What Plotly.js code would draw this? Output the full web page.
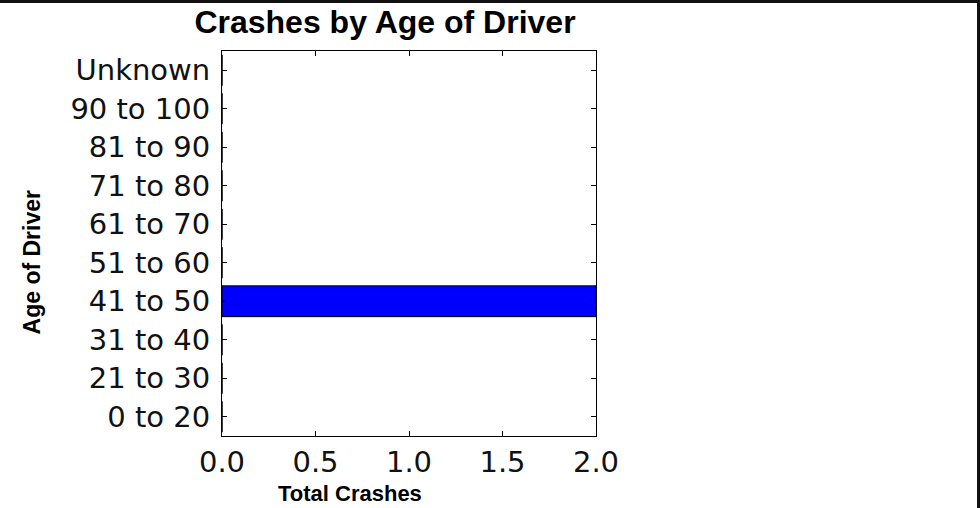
<!DOCTYPE html>
<html>
<head>
<meta charset="utf-8">
<script src="https://cdn.plot.ly/plotly-3.0.1.min.js"></script>
<style>
html,body{margin:0;padding:0;background:#fff;}
#wrap{position:relative;width:980px;height:508px;}
#chart{width:980px;height:508px;}
#frame{position:absolute;left:0;top:0;width:980px;height:508px;box-sizing:border-box;border-top:3px solid #111;border-right:3px solid #111;pointer-events:none;}
</style>
</head>
<body>
<div id="wrap"><div id="chart"></div><div id="frame"></div></div>
<script>
const categories = ["0 to 20","21 to 30","31 to 40","41 to 50","51 to 60","61 to 70","71 to 80","81 to 90","90 to 100","Unknown"];
const totalCrashes = [0,0,0,2,0,0,0,0,0,0];
const xTicks = [0,0.5,1.0,1.5,2.0];
const chartTitle = "Crashes by Age of Driver";
const xLabel = "Total Crashes";
const yLabel = "Age of Driver";

const trace = {
  type: "bar",
  orientation: "h",
  x: totalCrashes,
  y: categories,
  marker: {color: "#0000ff", line: {color: "#000", width: 1}},
  hoverinfo: "x+y"
};

const axisCommon = {
  showline: true, linecolor: "#000", linewidth: 1, mirror: "ticks",
  ticks: "inside", ticklen: 5, tickwidth: 1, tickcolor: "#000",
  showgrid: false, zeroline: false,
  tickfont: {family: "DejaVu Sans", size: 29, color: "#111"}
};

const layout = {
  width: 980, height: 508,
  margin: {l: 222, r: 384, t: 51, b: 72, pad: 0},
  paper_bgcolor: "#fff", plot_bgcolor: "#fff",
  showlegend: false,
  bargap: 0.2,
  title: {text: "<b>" + chartTitle + "</b>", x: 385/980, xref: "container", xanchor: "center",
          y: 1 - 22/508, yref: "container", yanchor: "middle",
          font: {family: "Liberation Sans, Arial", size: 32, color: "#000"}},
  xaxis: Object.assign({}, axisCommon, {range: [0, 2], tickvals: xTicks, tickformat: ".1f", ticklabelstandoff: 0}),
  yaxis: Object.assign({}, axisCommon, {type: "category", categoryorder: "array", categoryarray: categories,
          range: [-0.5, 9.5], ticklabelstandoff: 5}),
  annotations: [
    {text: "<b>" + xLabel + "</b>", xref: "paper", yref: "paper", x: (350-222)/374, y: (436-494)/386,
     xanchor: "center", yanchor: "middle", showarrow: false, borderpad: 0,
     font: {family: "Liberation Sans, Arial", size: 22, color: "#000"}},
    {text: "<b>" + yLabel + "</b>", xref: "paper", yref: "paper", x: (32-222)/374, y: (436-262)/386,
     xanchor: "center", yanchor: "middle", showarrow: false, textangle: -90,
     font: {family: "Liberation Sans, Arial", size: 23, color: "#000"}}
  ]
};

Plotly.newPlot("chart", [trace], layout, {displayModeBar: false, staticPlot: true});
</script>
</body>
</html>
